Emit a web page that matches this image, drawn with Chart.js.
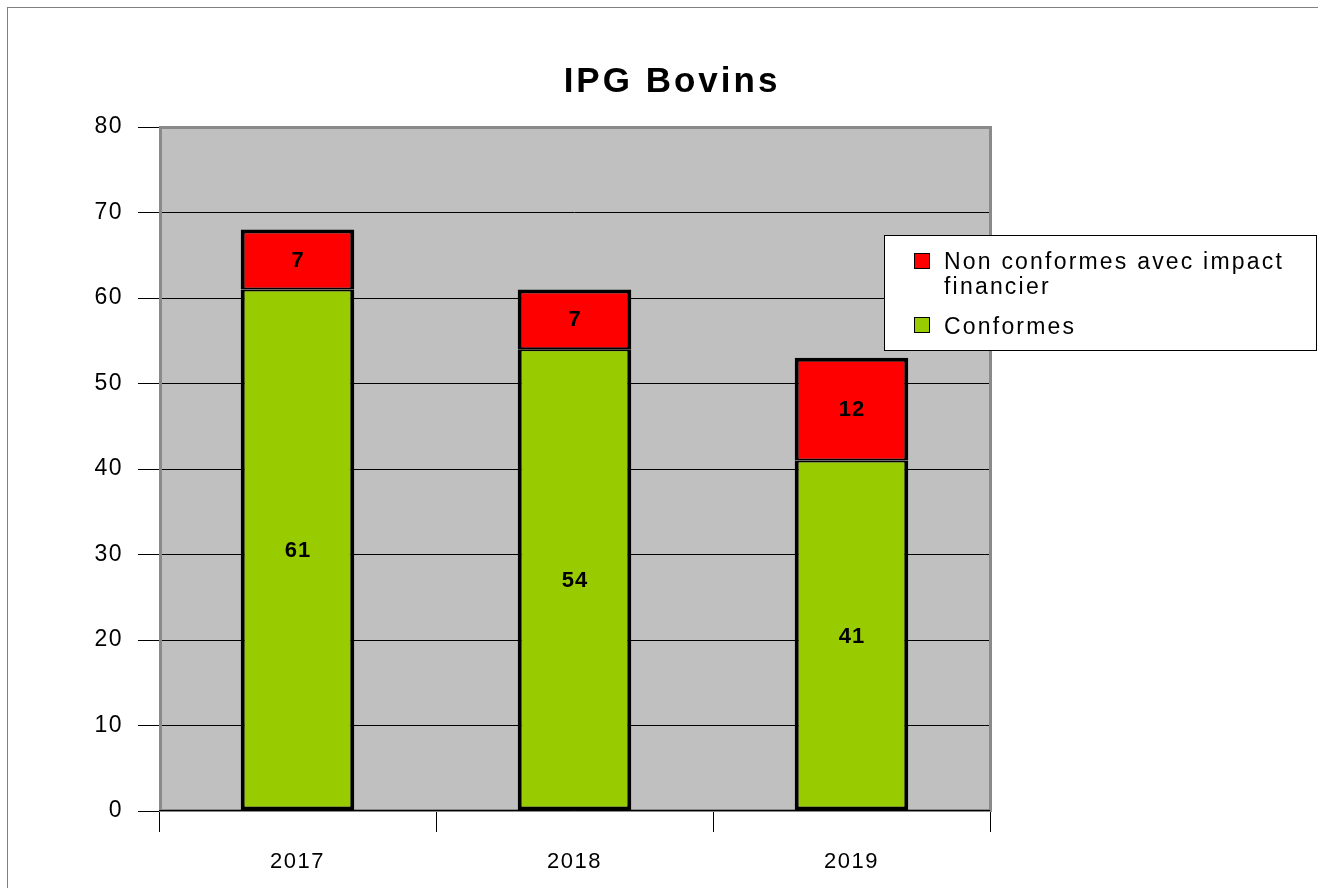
<!DOCTYPE html>
<html>
<head>
<meta charset="utf-8">
<script src="https://cdn.jsdelivr.net/npm/chart.js@4.4.1/dist/chart.umd.min.js"></script>
<style>
  html, body { margin: 0; padding: 0; background: #ffffff; }
  #wrap { width: 1318px; height: 888px; position: relative; }
  canvas { display: block; }
</style>
</head>
<body>
<div id="wrap"><canvas id="c" width="1318" height="888"></canvas></div>
<script>
// ---- data ----
const titleText = 'IPG Bovins';
const categories = ['2017', '2018', '2019'];
const conformes = [61, 54, 41];
const nonConformes = [7, 7, 12];
const seriesLabels = ['Conformes', 'Non conformes avec impact financier'];
const seriesColors = ['#99CC00', '#FF0000'];
const yMin = 0, yMax = 80, yStep = 10;

const FONT = '"Liberation Sans", Arial, Helvetica, sans-serif';

const framePlugin = {
  id: 'frame',
  beforeDraw(chart) {
    const ctx = chart.ctx;
    const a = chart.chartArea;
    ctx.save();
    ctx.fillStyle = '#ffffff';
    ctx.fillRect(0, 0, chart.width, chart.height);
    // outer frame
    ctx.strokeStyle = '#808080';
    ctx.lineWidth = 1;
    ctx.strokeRect(7.5, 7.5, chart.width + 20, chart.height + 20);
    // plot background
    ctx.fillStyle = '#C0C0C0';
    ctx.fillRect(a.left, a.top, a.right - a.left, a.bottom - a.top);
    ctx.restore();
    ctx.letterSpacing = '1.5px';
  },
  beforeDatasetsDraw(chart) {
    const ctx = chart.ctx;
    const a = chart.chartArea;
    ctx.save();
    ctx.strokeStyle = '#8a8a8a';
    ctx.lineWidth = 3;
    ctx.strokeRect(a.left + 1.5, a.top + 0.5, a.right - a.left - 1, a.bottom - a.top - 1);
    ctx.strokeStyle = '#000000';
    ctx.lineWidth = 1;
    ctx.beginPath();
    ctx.moveTo(a.left, a.bottom - 0.5);
    ctx.lineTo(a.right, a.bottom - 0.5);
    ctx.stroke();
    ctx.restore();
  },
  afterDatasetsDraw(chart) {
    const ctx = chart.ctx;
    ctx.save();
    ctx.letterSpacing = '1px';
    ctx.font = 'bold 22px ' + FONT;
    ctx.fillStyle = '#000000';
    ctx.textAlign = 'center';
    ctx.textBaseline = 'middle';
    chart.data.datasets.forEach((ds, di) => {
      const meta = chart.getDatasetMeta(di);
      meta.data.forEach((bar, i) => {
        const p = bar.getProps(['x', 'y', 'base'], true);
        ctx.fillText(String(ds.data[i]), p.x + 0.5, (p.y + p.base) / 2 + 1);
      });
    });
    ctx.restore();
  },
  afterDraw(chart) {
    const ctx = chart.ctx;
    ctx.save();
    // title
    ctx.letterSpacing = '3px';
    ctx.font = 'bold 35px ' + FONT;
    ctx.fillStyle = '#000000';
    ctx.textAlign = 'center';
    ctx.textBaseline = 'alphabetic';
    ctx.fillText(titleText, 672, 92);
    // legend
    const lx = 884, ly = 235, lw = 432, lh = 115;
    ctx.fillStyle = '#ffffff';
    ctx.fillRect(lx, ly, lw, lh);
    ctx.strokeStyle = '#000000';
    ctx.lineWidth = 1;
    ctx.strokeRect(lx + 0.5, ly + 0.5, lw, lh);
    ctx.letterSpacing = '2.2px';
    ctx.font = '23px ' + FONT;
    ctx.textAlign = 'left';
    const items = chart.data.datasets.slice().reverse();
    const boxY = [253, 317];
    const textY = [[269, 294], [334]];
    items.forEach((ds, k) => {
      ctx.fillStyle = ds.backgroundColor;
      ctx.fillRect(914, boxY[k], 15, 15);
      ctx.strokeStyle = '#000000';
      ctx.strokeRect(914.5, boxY[k] + 0.5, 15, 15);
      // wrap
      const words = ds.label.split(' ');
      const lines = [];
      let cur = '';
      words.forEach(w => {
        const t = cur ? cur + ' ' + w : w;
        if (ctx.measureText(t).width > 360 && cur) { lines.push(cur); cur = w; }
        else cur = t;
      });
      if (cur) lines.push(cur);
      ctx.fillStyle = '#000000';
      lines.forEach((ln, j) => {
        ctx.fillText(ln, 944, textY[k][j] !== undefined ? textY[k][j] : textY[k][0] + 25 * j);
      });
    });
    ctx.restore();
  }
};

new Chart(document.getElementById('c'), {
  type: 'bar',
  data: {
    labels: categories,
    datasets: [
      {
        label: seriesLabels[0],
        data: conformes,
        backgroundColor: seriesColors[0],
        borderColor: '#000000',
        borderWidth: { top: 2, left: 4, right: 4, bottom: 4 },
        borderSkipped: false
      },
      {
        label: seriesLabels[1],
        data: nonConformes,
        backgroundColor: seriesColors[1],
        borderColor: '#000000',
        borderWidth: { top: 4, left: 4, right: 4, bottom: 2 },
        borderSkipped: false
      }
    ]
  },
  options: {
    responsive: false,
    animation: false,
    devicePixelRatio: 1,
    layout: { padding: { top: 127, right: 328, bottom: 0, left: 0 } },
    datasets: { bar: { categoryPercentage: 1.0, barPercentage: 0.41 } },
    plugins: {
      legend: { display: false },
      title: { display: false },
      tooltip: { enabled: false }
    },
    scales: {
      x: {
        stacked: true,
        offset: true,
        grid: { display: true, drawOnChartArea: false, drawTicks: true, tickLength: 21, color: '#000000', lineWidth: 1, offset: true },
        border: { display: false },
        ticks: { color: '#000000', font: { family: FONT, size: 22 }, padding: 17 },
        afterFit(scale) { scale.height = 77; }
      },
      y: {
        stacked: true,
        min: yMin,
        max: yMax,
        ticks: { stepSize: yStep, color: '#000000', font: { family: FONT, size: 23 }, padding: 15 },
        grid: { color: '#000000', lineWidth: 1, tickLength: 21, drawTicks: true },
        border: { display: false },
        afterFit(scale) { scale.width = 159; }
      }
    }
  },
  plugins: [framePlugin]
});
</script>
</body>
</html>
